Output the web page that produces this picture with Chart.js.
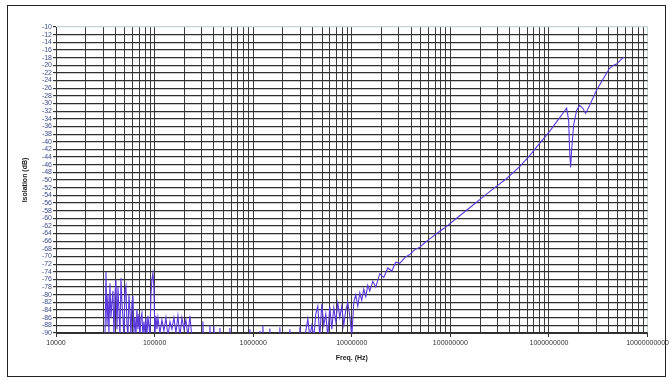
<!DOCTYPE html>
<html>
<head>
<meta charset="utf-8">
<script src="https://cdn.jsdelivr.net/npm/chart.js@4.4.0/dist/chart.umd.min.js"></script>
<style>
  html, body { margin: 0; padding: 0; background: #fff; }
  #wrap { width: 671px; height: 381px; position: relative; }
</style>
</head>
<body>
<div id="wrap"><canvas id="chart" width="671" height="381"></canvas></div>
<script>
// low band noise floor (Hz / dB)
const lowFreq = [31400, 32130, 32880, 33650, 34440, 35260, 36080, 36930, 37800, 38700,
    39620, 40550, 41510, 42500, 43500, 44530, 45580, 46660, 47750, 48890,
    50040, 51220, 52440, 53670, 54930, 56230, 57560, 58910, 60310, 61730,
    63180, 64680, 66210, 67760, 69370, 71000, 72680, 74390, 76150, 77940,
    79800, 81680, 83600, 85580, 87600, 89680, 91800, 93960, 96180, 98440,
    100800, 103160, 105600, 108100, 113200, 118650, 124300, 130250, 136500, 143000,
    149900, 157000, 164500, 172400, 180600, 189200, 198300, 207700, 217700, 228000, 238900];
const lowIso = [-91, -74, -88, -80, -90, -77, -86, -82, -79, -91,
    -80, -76, -89, -78, -84, -91, -75.6, -82, -86, -91,
    -79, -77.7, -88, -91, -80, -84, -91, -82, -80.3, -90,
    -86, -91, -83.7, -89, -85, -91, -86, -84.7, -91, -87,
    -90, -86, -91, -85.5, -88, -91, -80, -76, -74.3, -78,
    -91, -85.5, -89, -86, -90, -86.5, -89.5, -86, -91, -87,
    -89, -86, -90, -85.5, -91, -86, -89, -86.5, -91, -85.5, -91];

// sparse bits near the floor
const midFreq = [288000, 306000, 308900, 311800, 360400, 363800, 367100, 395600, 399300, 403000,
    455000, 459300, 463600, 574700, 580100, 585500, 916600, 925000, 933700,
    1157000, 1168000, 1179000, 1241000, 1253000, 1265000, 1461000, 1475000, 1489000,
    1845000, 1863000, 1880000, 2330000, 2352000, 2374000, 2943000, 2971000, 2999000, 3339000];
const midIso = [-91, -91, -86.9, -91, -91, -88, -91, -91, -88.3, -91,
    -91, -88.7, -91, -91, -88.7, -91, -91, -89, -91,
    -91, -89.5, -91, -91, -88, -91, -91, -88.8, -91,
    -91, -88.5, -91, -91, -89, -91, -91, -88.5, -91, -91];

// rising noisy part
const riseFreq = [3581000, 3751000, 3930000, 4120000, 4315000, 4521000, 4737000, 4963000,
    5200000, 5450000, 5710000, 5983000, 6268000, 6567000, 6880000, 7210000,
    7553000, 7913000, 8294000, 8690000, 9107000, 9540000, 9995000, 10470000,
    10975000, 11500000, 12050000, 12620000, 13220000, 13860000, 14520000, 15210000,
    16320000, 17500000, 19220000, 21100000, 23160000, 25430000, 27920000, 30650000,
    34450000, 38700000, 43500000, 48890000, 54930000, 61730000, 72680000];
const riseIso = [-86.3, -91, -88, -91, -85, -83, -91, -82.4,
    -88, -85, -91, -83, -89, -83.4, -87, -82.1,
    -86, -83, -88, -84, -82, -85.5, -91, -82,
    -80, -83, -79.5, -81.5, -78.5, -80.5, -77.5, -79,
    -76.5, -78, -74.5, -75.5, -73, -73.8, -71.5, -71.8,
    -70.3, -69.5, -68.2, -67.6, -66.4, -65.4, -64.0];

// upper band with the notch
const highFreq = [87600000, 110600000, 139700000, 176400000, 222700000, 281300000, 372300000,
    504300000, 636800000, 804000000, 1015000000, 1224000000, 1408000000, 1510000000,
    1582000000, 1619000000, 1657000000, 1696000000, 1777000000, 1906000000, 2044000000,
    2193000000, 2352000000, 2582000000, 3041000000, 3580000000, 4118000000, 4521000000,
    4850000000, 5200000000, 5710000000];
const highIso = [-62.5, -60.4, -58.3, -56.2, -54.1, -52.0, -49.6,
    -46.5, -43.6, -40.4, -37.3, -34.4, -32.3, -31.2,
    -34.4, -42.3, -46.7, -42.3, -35.7, -31.8, -30.5,
    -31.2, -32.6, -30.5, -26.5, -23.4, -20.8, -20.0,
    -19.7, -18.9, -17.9];

const xDecades = [1e4, 1e5, 1e6, 1e7, 1e8, 1e9, 1e10];
const yMin = -90, yMax = -10, yStep = 2;

const freqs = lowFreq.concat(midFreq, riseFreq, highFreq);
const iso = lowIso.concat(midIso, riseIso, highIso);
const points = freqs.map(function (f, i) {
    return { x: f, y: iso[i] };
});

// every 1..9 x 10^n for the log grid
const xGridTicks = [];
for (let d = 0; d < xDecades.length - 1; d++) {
    for (let m = 1; m <= 9; m++) {
        xGridTicks.push({ value: m * xDecades[d] });
    }
}
xGridTicks.push({ value: xDecades[xDecades.length - 1] });

const isDecade = function (v) {
    return xDecades.indexOf(v) !== -1;
};

const frame = {
    id: 'frame',
    beforeDraw: function (chart) {
        const ctx = chart.ctx;
        ctx.save();
        ctx.fillStyle = '#fff';
        ctx.fillRect(0, 0, chart.width, chart.height);
        ctx.strokeStyle = '#222';
        ctx.lineWidth = 1;
        ctx.strokeRect(7.5, 5.5, 658, 371);
        ctx.restore();
    }
};

new Chart(document.getElementById('chart'), {
    type: 'line',
    data: {
        datasets: [{
            label: 'Isolation',
            data: points,
            borderColor: '#5a38dc',
            borderWidth: 1.1,
            pointRadius: 0,
            tension: 0,
            fill: false
        }]
    },
    options: {
        responsive: false,
        animation: false,
        events: [],
        layout: { padding: { left: 8, top: 27, right: 23, bottom: 0 } },
        plugins: {
            legend: { display: false },
            tooltip: { enabled: false }
        },
        scales: {
            x: {
                type: 'logarithmic',
                min: xDecades[0],
                max: xDecades[xDecades.length - 1],
                afterBuildTicks: function (scale) {
                    scale.ticks = xGridTicks.map(function (t) { return { value: t.value }; });
                },
                afterFit: function (scale) { scale.height = 48; },
                ticks: {
                    autoSkip: false,
                    maxRotation: 0,
                    padding: 2,
                    color: '#333',
                    font: { family: 'Liberation Sans', size: 7 },
                    callback: function (v) {
                        return isDecade(v) ? String(v) : '';
                    }
                },
                grid: {
                    color: function (c) {
                        return c.tick && c.tick.value === 1e10 ? '#c5d3d3' : '#3c3c3c';
                    },
                    lineWidth: 1,
                    tickLength: 4,
                    tickColor: function (c) {
                        return c.tick && isDecade(c.tick.value) ? '#333' : 'rgba(0,0,0,0)';
                    }
                },
                border: { color: '#333', width: 1 },
                title: {
                    display: true,
                    text: 'Freq. (Hz)',
                    color: '#222',
                    font: { family: 'Liberation Sans', size: 7, weight: 'bold' },
                    padding: { top: 0, bottom: 19 }
                }
            },
            y: {
                min: yMin,
                max: yMax,
                afterFit: function (scale) { scale.width = 48; },
                ticks: {
                    stepSize: yStep,
                    autoSkip: false,
                    padding: 1,
                    color: '#3a4c8c',
                    font: { family: 'Liberation Sans', size: 7 }
                },
                grid: {
                    color: function (c) {
                        return c.tick && c.tick.value === yMax ? '#c5d3d3' : '#2e2e2e';
                    },
                    lineWidth: 1.2,
                    tickLength: 3,
                    tickColor: '#333'
                },
                border: { color: '#333', width: 1 },
                title: {
                    display: true,
                    text: 'Isolation (dB)',
                    color: '#222',
                    font: { family: 'Liberation Sans', size: 7, weight: 'bold' },
                    padding: { top: 13, bottom: 0 }
                }
            }
        }
    },
    plugins: [frame]
});
</script>
</body>
</html>
